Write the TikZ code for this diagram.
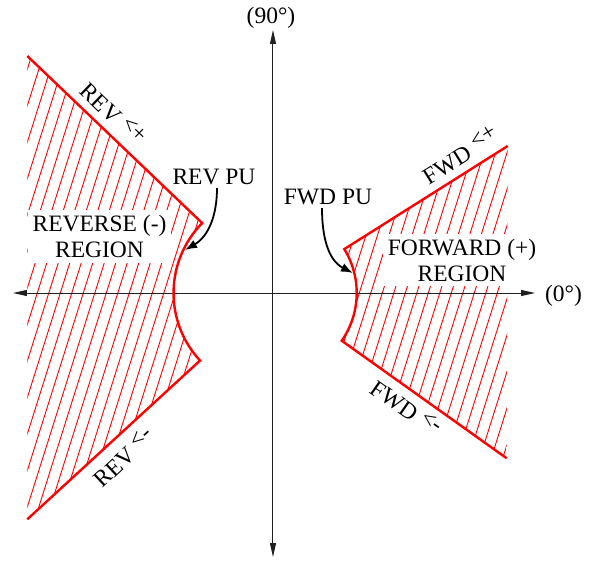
\documentclass[tikz,border=0pt]{standalone}
\usepackage{fontspec}
\setmainfont{Liberation Serif}
\usetikzlibrary{arrows.meta,positioning}
\definecolor{PURed}{HTML}{FF0000}
\definecolor{PUAxis}{HTML}{202020}
\newcommand{\angtag}[1]{\hspace{0.25em}\raisebox{0.22em}{<#1}}

\begin{document}
\begin{tikzpicture}[x=1pt,y=1pt,
    every node/.style={font=\fontsize{23.5}{26}\selectfont},
    hatch/.style={PURed, line width=0.9pt},
    bound/.style={PURed, line width=2.4pt, line join=miter},
    axis/.style={PUAxis, line width=1pt, {Triangle[length=14pt,width=6pt]}-{Triangle[length=14pt,width=6pt]}},
    puarrow/.style={black, line width=1.8pt, -{Latex[length=12pt,width=9pt]}},
    regionlbl/.style={align=center, fill=white, inner sep=5pt},
    edgelbl/.style={inner sep=0pt}]
    \useasboundingbox (-273,-267) rectangle (319,293);
    % hatching
    \begin{scope}
      \clip (-245.7,237) -- (-70.8,69.9) arc[start angle=135.4, end angle=222.8, radius=99.5] -- (-245.7,-226.3) -- cycle;
      \foreach \k in {-8,...,17}
        \draw[hatch] (-235.7+11.5*\k,0) ++(252.5:320) -- ++(72.5:640);
    \end{scope}
    \begin{scope}
      \clip (234.7,147) -- (71.3,43.9) arc[start angle=31.6, end angle=-34.8, radius=83.7] -- (233.7,-165.3) -- cycle;
      \foreach \k in {21,...,47}
        \draw[hatch] (-235.7+11.5*\k,0) ++(252.5:320) -- ++(72.5:640);
    \end{scope}
    \node[regionlbl] (revregion) at (-173.5,56.5) {REVERSE (-)\\REGION};
    \node[regionlbl] (fwdregion) at (189,33) {FORWARD (+)\\REGION};
    % axes
    \draw[axis] (-260,0) -- (262,0);
    \draw[axis] (0,-264) -- (0,263);
    \node (zerodeg) at (290.5,-3) {(0°)};
    \node (ninetydeg) at (-2,275) {(90°)};
    % boundaries
    \draw[bound] (-245.7,237) -- (-70.8,69.9) arc[start angle=135.4, end angle=222.8, radius=99.5] -- (-245.7,-226.3);
    \draw[bound] (234.7,147) -- (71.3,43.9) arc[start angle=31.6, end angle=-34.8, radius=83.7] -- (233.7,-165.3);
    \node[edgelbl, rotate=-44] (revplus) at (-159.5,179.5) {REV\angtag{+}};
    \node[edgelbl, rotate=43] (revminus) at (-149.5,-164) {REV\angtag{-}};
    \node[edgelbl, rotate=32] (fwdplus) at (187,138) {FWD\angtag{+}};
    \node[edgelbl, rotate=-35] (fwdminus) at (133.5,-114.5) {FWD\angtag{-}};
    % pick-up arrows
    \node[inner sep=3pt] (revpu) at (-59,116) {REV PU};
    \node[inner sep=3pt] (fwdpu) at (55,96) {FWD PU};
    \coordinate (revtip) at (-88,43);
    \coordinate (fwdtip) at (80,20);
    \draw[puarrow] ([xshift=3pt]revpu.south) to[out=-90, in=30] (revtip);
    \draw[puarrow] ([xshift=-6pt]fwdpu.south) to[out=-90, in=153] (fwdtip);
  \end{tikzpicture}
\end{document}
